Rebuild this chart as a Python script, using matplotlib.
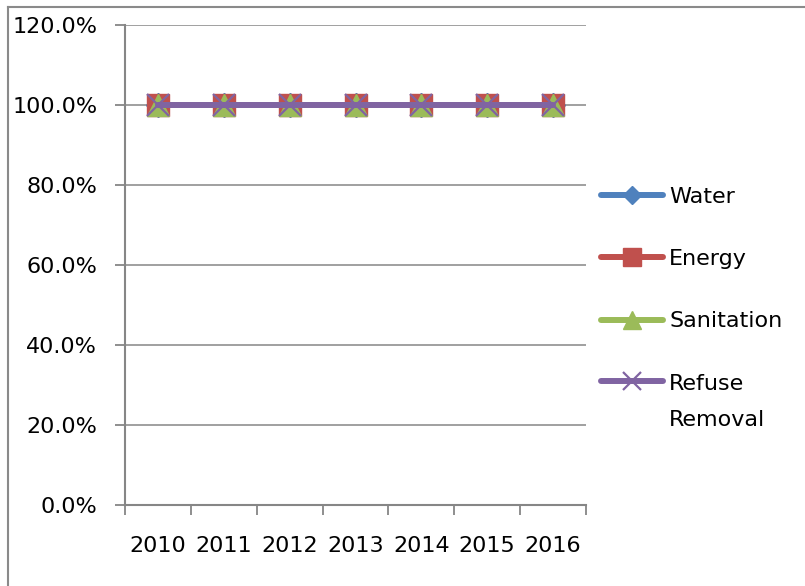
import matplotlib
matplotlib.use("Agg")
import matplotlib.pyplot as plt
from matplotlib.lines import Line2D
from matplotlib.offsetbox import HPacker, TextArea
from matplotlib.ticker import FixedLocator, NullFormatter, PercentFormatter

plt.rcParams['font.family'] = ['DejaVu Sans']

# Service coverage by year (share of households)
years = ["2010", "2011", "2012", "2013", "2014", "2015", "2016"]
water = [1.0, 1.0, 1.0, 1.0, 1.0, 1.0, 1.0]
energy = [1.0, 1.0, 1.0, 1.0, 1.0, 1.0, 1.0]
sanitation = [1.0, 1.0, 1.0, 1.0, 1.0, 1.0, 1.0]
refuse_removal = [1.0, 1.0, 1.0, 1.0, 1.0, 1.0, 1.0]
series_names = ["Water", "Energy", "Sanitation", "Refuse\nRemoval"]
y_ticks = [0.0, 0.2, 0.4, 0.6, 0.8, 1.0, 1.2]

W, H = 805, 586
fig = plt.figure(figsize=(W / 100, H / 100), dpi=100)
ax = fig.add_axes([125 / W, 1 - 505 / H, (586 - 125) / W, (505 - 25) / H])

GRID = "#868686"
FS = 16
styles = [
    dict(color="#4F81BD", marker="D", markersize=12),
    dict(color="#C0504D", marker="s", markersize=15.5),
    dict(color="#9BBB59", marker="^", markersize=15.5),
    dict(color="#8064A2", marker="x", markersize=15.5, markeredgewidth=1.6),
]
x = list(range(len(years)))
for vals, name, st in zip([water, energy, sanitation, refuse_removal], series_names, styles):
    ax.plot(x, vals, label=name, linewidth=4.3, solid_capstyle="round", zorder=3, **st)

ax.set_xlim(-0.5, len(years) - 0.5)
ax.set_ylim(0, 1.2)
ax.yaxis.set_major_locator(FixedLocator(y_ticks))
ax.yaxis.set_major_formatter(PercentFormatter(xmax=1, decimals=1))
ax.grid(axis="y", color=GRID, linewidth=1.1, zorder=0)
ax.set_axisbelow(True)

# category boundaries get tick marks; labels sit at category centres
ax.xaxis.set_major_locator(FixedLocator([i - 0.5 for i in range(len(years) + 1)]))
ax.xaxis.set_major_formatter(NullFormatter())
ax.xaxis.set_minor_locator(FixedLocator(x))
ax.set_xticklabels(years, minor=True)
ax.tick_params(axis="x", which="minor", length=0, pad=22, labelsize=FS)
ax.tick_params(axis="x", which="major", length=7, width=1.3, color=GRID, direction="out")
ax.tick_params(axis="y", length=7, width=1.3, color=GRID, pad=13, labelsize=FS)

for side in ("top", "right"):
    ax.spines[side].set_visible(False)
for side in ("left", "bottom"):
    ax.spines[side].set_color(GRID)
    ax.spines[side].set_linewidth(1.5)

leg = fig.legend(loc="upper left", bbox_to_anchor=(601 / W, 1 - 187 / H),
                 frameon=False, fontsize=FS, borderpad=0, borderaxespad=0,
                 handlelength=2.8, handletextpad=0.27, labelspacing=1.9,
                 markerscale=0.8)
leg.get_texts()[3].set_linespacing(2.0)
# align the two-line entry's handle with its first line
for hp in leg.findobj(HPacker):
    kids = hp.get_children()
    if any(isinstance(k, TextArea) and "\n" in k.get_text() for k in kids):
        hp.align = "top"

# chart frame edges
fig.add_artist(Line2D([8 / W, 8 / W], [0, 1 - 7 / H], color="#8a8a8a", linewidth=1.5))
fig.add_artist(Line2D([8 / W, 1], [1 - 7 / H, 1 - 7 / H], color="#8a8a8a", linewidth=1.5))

fig.savefig("out.png", dpi=100)
